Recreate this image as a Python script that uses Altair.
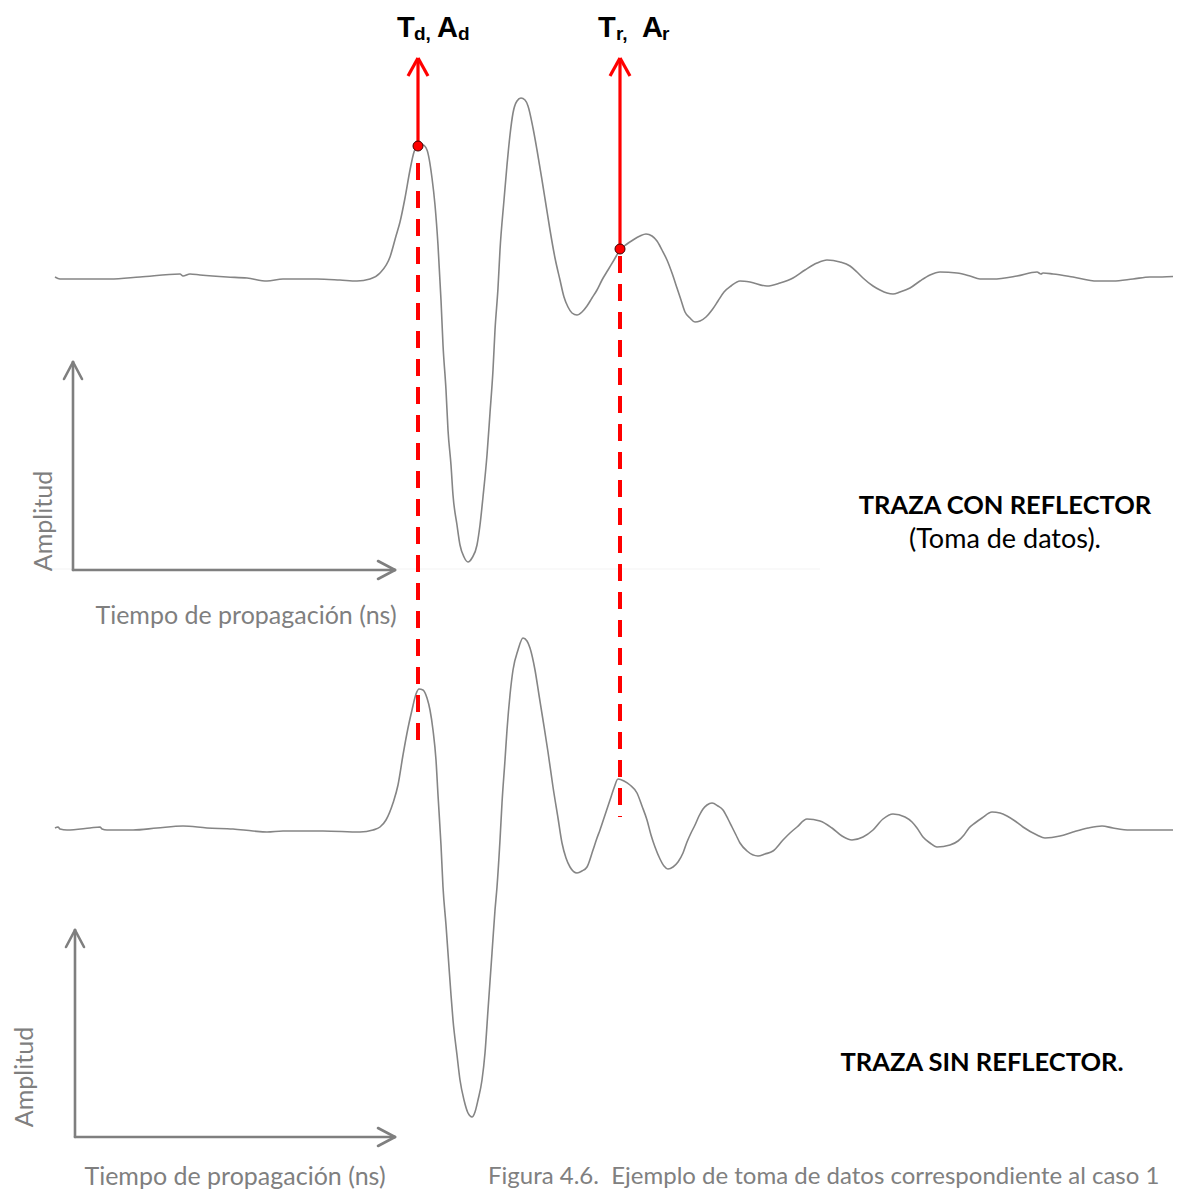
import altair as alt
import pandas as pd

# ---- waveform traces (image-pixel coordinates: time -> x, amplitude -> y) ----
top_t = [55,60,110,140,180,183,190,200,227,247,267,283,317,340,357,370,380,390,396,400,405,410,414,418,423,427,432,435,438,441,443,446,448,451,453,457,460,464,468,472,477,480,483,487,490,493,495,498,500,504,507,510,513,517,521,525,528,533,537,542,546,550,555,560,564,568,572,577,582,587,592,597,602,608,614,620,627,633,640,646,652,657,662,667,672,677,681,685,690,695,700,706,712,718,724,731,740,750,767,780,793,805,817,827,840,850,857,863,873,880,887,893,900,910,920,930,940,957,970,980,993,1017,1037,1041,1043,1053,1073,1097,1113,1133,1150,1162,1181]
top_a = [277,279,279,277,274,276,274,275,277,278,281,279,279,280,281,279,273,257,236,222,198,170,152,145,145,150,178,205,245,300,345,390,430,465,495,525,545,557,562,558,545,525,497,455,413,370,330,288,250,200,165,135,113,101,98,100,106,128,150,180,205,230,258,280,297,307,313,315,312,306,298,290,280,270,260,250,244,240,236,234,236,241,250,260,273,288,300,312,318,322,321,317,310,301,292,286,281,282,286,283,278,270,263,260,262,266,272,278,286,290,293,294,292,288,281,275,272,273,276,279,279,276,272,274,273,274,277,281,281,279,277,277,276]

bot_t = [55,58,60,67,90,100,102,107,133,157,183,207,233,253,267,283,323,360,373,380,386,393,398,403,408,412,416,419,423,427,430,433,436,438,441,443,446,448,451,453,457,460,464,468,472,475,478,482,485,488,492,495,497,500,502,505,507,510,513,518,523,527,530,535,539,543,548,553,558,562,566,570,577,582,587,593,597,600,605,610,614,618,624,630,637,642,647,651,655,660,664,668,673,678,683,687,691,695,699,703,707,712,718,723,728,732,736,740,747,758,765,773,783,790,797,807,820,832,842,852,863,873,883,893,905,912,917,923,930,937,950,958,964,969,975,982,992,1000,1007,1015,1023,1037,1045,1060,1073,1088,1102,1113,1130,1162,1181]
bot_a = [828,827,829,830,828,827,829,830,830,828,826,828,829,831,832,831,831,832,830,827,820,803,785,755,728,710,694,689,690,698,710,730,760,795,845,887,925,953,995,1020,1055,1080,1100,1113,1117,1112,1100,1080,1053,1010,953,910,887,840,803,760,730,695,670,650,638,641,648,670,695,720,752,787,818,843,858,867,873,871,867,850,838,830,815,800,788,779,781,785,793,806,820,835,847,859,866,869,867,862,853,842,833,825,816,809,805,803,806,810,819,827,835,843,851,856,854,851,840,833,827,819,821,828,836,840,837,830,819,814,817,822,828,837,843,847,845,841,835,828,823,818,812,813,816,821,827,835,838,836,832,828,826,828,830,830,830]

# ---- marker positions ----
pick_t = [418, 620]          # T_d, T_r
pick_a = [146, 249]          # A_d, A_r
arrow_top = 58
dash_start = [163, 256]
dash_end = [740, 817]

# axis arrows: (x0, y0, x1, y1)
gray_segments = [
    (73, 570, 73, 362), (64, 379, 73, 362), (82, 379, 73, 362),
    (73, 570, 395, 570), (378, 561, 395, 570), (378, 579, 395, 570),
    (75, 1137, 75, 930), (66, 947, 75, 930), (84, 947, 75, 930),
    (75, 1137, 395, 1137), (378, 1128, 395, 1137), (378, 1146, 395, 1137),
]
red_segments = [
    (418, 146, 418, arrow_top), (408, 76, 418, arrow_top), (428, 76, 418, arrow_top),
    (620, 249, 620, arrow_top), (610, 76, 620, arrow_top), (630, 76, 620, arrow_top),
]

X = alt.Scale(domain=[8, 1173], nice=False, zero=False)
Y = alt.Scale(domain=[8, 1191], nice=False, zero=False, reverse=True)
W, H = 1165, 1183

def xq(f="x"):
    return alt.X(f + ":Q", scale=X, axis=None)

def yq(f="y"):
    return alt.Y(f + ":Q", scale=Y, axis=None)

traces = pd.DataFrame(
    [{"x": t, "y": a, "trace": "con"} for t, a in zip(top_t, top_a)]
    + [{"x": t, "y": a, "trace": "sin"} for t, a in zip(bot_t, bot_a)]
)

faint = alt.Chart(pd.DataFrame({"x": [40], "x2": [820], "y": [569]})).mark_rule(
    color="#f3f3f3", strokeWidth=1
).encode(x=xq(), x2="x2:Q", y=yq())

lines = alt.Chart(traces).mark_line(
    color="#858585", strokeWidth=1.6, interpolate="monotone"
).encode(x=xq(), y=yq(), detail="trace:N", order="x:Q")

gdf = pd.DataFrame(gray_segments, columns=["x", "y", "x2", "y2"])
gray = alt.Chart(gdf).mark_rule(color="#7f7f7f", strokeWidth=2.6, strokeCap="round").encode(
    x=xq(), y=yq(), x2="x2:Q", y2="y2:Q"
)

rdf = pd.DataFrame(red_segments, columns=["x", "y", "x2", "y2"])
red = alt.Chart(rdf).mark_rule(color="#ff0000", strokeWidth=3.2, strokeCap="butt").encode(
    x=xq(), y=yq(), x2="x2:Q", y2="y2:Q"
)

ddf = pd.DataFrame({"x": pick_t, "y": dash_start, "y2": dash_end})
dashed = alt.Chart(ddf).mark_rule(color="#ff0000", strokeWidth=4, strokeDash=[17, 11]).encode(
    x=xq(), y=yq(), y2="y2:Q"
)

dots = alt.Chart(pd.DataFrame({"x": pick_t, "y": pick_a})).mark_point(
    filled=True, fill="#ff0000", stroke="#400000", strokeWidth=1, size=100, opacity=1
).encode(x=xq(), y=yq())

def txt(df, **kw):
    return alt.Chart(df).mark_text(**kw).encode(x=xq(), y=yq(), text="text:N")

# symbolic labels
big_labels = pd.DataFrame({"x": [397, 437, 598, 642], "y": [37, 37, 37, 37], "text": ["T", "A", "T", "A"]})
sub_labels = pd.DataFrame({"x": [414, 458, 616, 662], "y": [40, 40, 40, 40], "text": ["d,", "d", "r,", "r"]})

t_big = txt(big_labels, font="Liberation Sans", fontWeight="bold", fontSize=29, color="black",
            align="left", baseline="alphabetic")
t_sub = txt(sub_labels, font="Liberation Sans", fontWeight="bold", fontSize=19, color="black",
            align="left", baseline="alphabetic")

axis_names = pd.DataFrame({"x": [246, 235], "y": [616, 1177],
                           "text": ["Tiempo de propagación (ns)", "Tiempo de propagación (ns)"]})
t_axis = txt(axis_names, font="Lato", fontSize=25, color="#7f7f7f", align="center", baseline="middle")

amp_names = pd.DataFrame({"x": [44, 25], "y": [521, 1077], "text": ["Amplitud", "Amplitud"]})
t_amp = txt(amp_names, font="Lato", fontSize=25, color="#7f7f7f", align="center", baseline="middle", angle=270)

bold_titles = pd.DataFrame({"x": [1005, 982], "y": [506, 1063],
                            "text": ["TRAZA CON REFLECTOR", "TRAZA SIN REFLECTOR."]})
t_bold = txt(bold_titles, font="Lato", fontWeight="bold", fontSize=25.5, color="black",
             align="center", baseline="middle")

sub_title = pd.DataFrame({"x": [1005], "y": [540], "text": ["(Toma de datos)."]})
t_subt = txt(sub_title, font="Lato", fontSize=27, color="black", align="center", baseline="middle")

caption = pd.DataFrame({"x": [488], "y": [1184],
                        "text": ["Figura 4.6.\u00a0 Ejemplo de toma de datos correspondiente al caso 1"]})
t_cap = txt(caption, font="Lato", fontSize=24, color="#808080", align="left", baseline="alphabetic")

chart = alt.layer(
    faint, lines, gray, dashed, red, dots, t_big, t_sub, t_axis, t_amp, t_bold, t_subt, t_cap
).properties(
    width=W, height=H, autosize=alt.AutoSizeParams(type="none"), padding=0
).configure_view(stroke=None)

chart.save("out.html", embed_options={"renderer": "svg", "actions": False})
